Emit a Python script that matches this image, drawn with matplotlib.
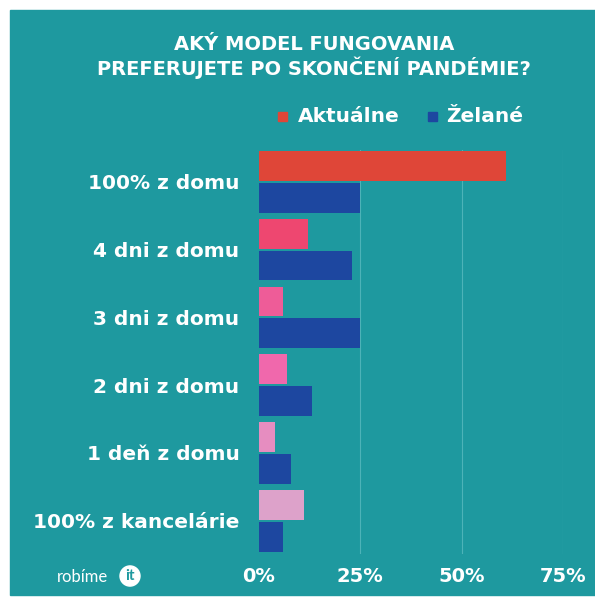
import numpy as np
import matplotlib.pyplot as plt
from matplotlib.patches import Rectangle, Circle

# data
categories = ['100% z domu', '4 dni z domu', '3 dni z domu',
              '2 dni z domu', '1 deň z domu', '100% z kancelárie']
aktualne = [61, 12, 6, 7, 4, 11]
zelane = [25, 23, 25, 13, 8, 6]
akt_colors = ['#DF4638', '#EE4770', '#EE5C98', '#F068AC', '#E68DC0', '#DDA2CA']
ticks = [0, 25, 50, 75]
tick_labels = ['0%', '25%', '50%', '75%']

teal = '#1E999F'
blue = '#1D47A0'
W, H = 595, 599

plt.rcParams['font.family'] = ['DejaVu Sans']

fig = plt.figure(figsize=(W / 100, H / 100), dpi=100)
fig.patch.set_facecolor('white')
fig.patches.append(Rectangle((10 / W, 4 / H), 1, (H - 14) / H,
                             transform=fig.transFigure, color=teal, zorder=-10))

ax = fig.add_axes([259 / W, 1 - 554 / H, (563 - 259) / W, 404 / H])
ax.set_facecolor('none')

y = np.arange(len(categories))
h = 0.44
ax.barh(y - 0.235, aktualne, height=h, color=akt_colors, zorder=3)
ax.barh(y + 0.235, zelane, height=h, color=blue, zorder=3)

ax.set_xlim(0, 75)
ax.set_ylim(5.49, -0.47)
for t in ticks[1:]:
    ax.axvline(t, color='#4DB3B8', lw=0.8, zorder=1)
for s in ax.spines.values():
    s.set_visible(False)
ax.tick_params(length=0)
ax.set_xticks(ticks)
ax.set_xticklabels(tick_labels, fontsize=14, fontweight='bold', color='white')
ax.tick_params(axis='x', pad=9)
ax.set_yticks(y)
ax.set_yticklabels(categories, fontsize=14.5, fontweight='bold', color='white')
ax.tick_params(axis='y', pad=14)

# title
fig.text(0.528, 1 - 57 / H, 'AKÝ MODEL FUNGOVANIA\nPREFERUJETE PO SKONČENÍ PANDÉMIE?',
         ha='center', va='center', fontsize=14, fontweight='bold',
         color='white', linespacing=1.1)

# legend
ly = 1 - 117 / H
fig.patches.append(Rectangle((278 / W, ly - 4 / H), 9 / W, 9 / H,
                             transform=fig.transFigure, color=akt_colors[0]))
fig.text(298 / W, ly, 'Aktuálne', ha='left', va='center', fontsize=14.5,
         fontweight='bold', color='white')
fig.patches.append(Rectangle((428 / W, ly - 4 / H), 9 / W, 9 / H,
                             transform=fig.transFigure, color=blue))
fig.text(446 / W, ly, 'Želané', ha='left', va='center', fontsize=14.5,
         fontweight='bold', color='white')

# logo
fig.text(57 / W, 1 - 577 / H, 'robíme', ha='left', va='center', fontsize=12,
         color='white', family='Lato')
fig.patches.append(Circle((130 / W, 1 - 576 / H), 10 / W,
                          transform=fig.transFigure, color='white'))
fig.text(130 / W, 1 - 576 / H, 'it', ha='center', va='center', fontsize=11,
         fontweight='bold', color=teal, family='Lato')

fig.savefig('out.png', dpi=100)
